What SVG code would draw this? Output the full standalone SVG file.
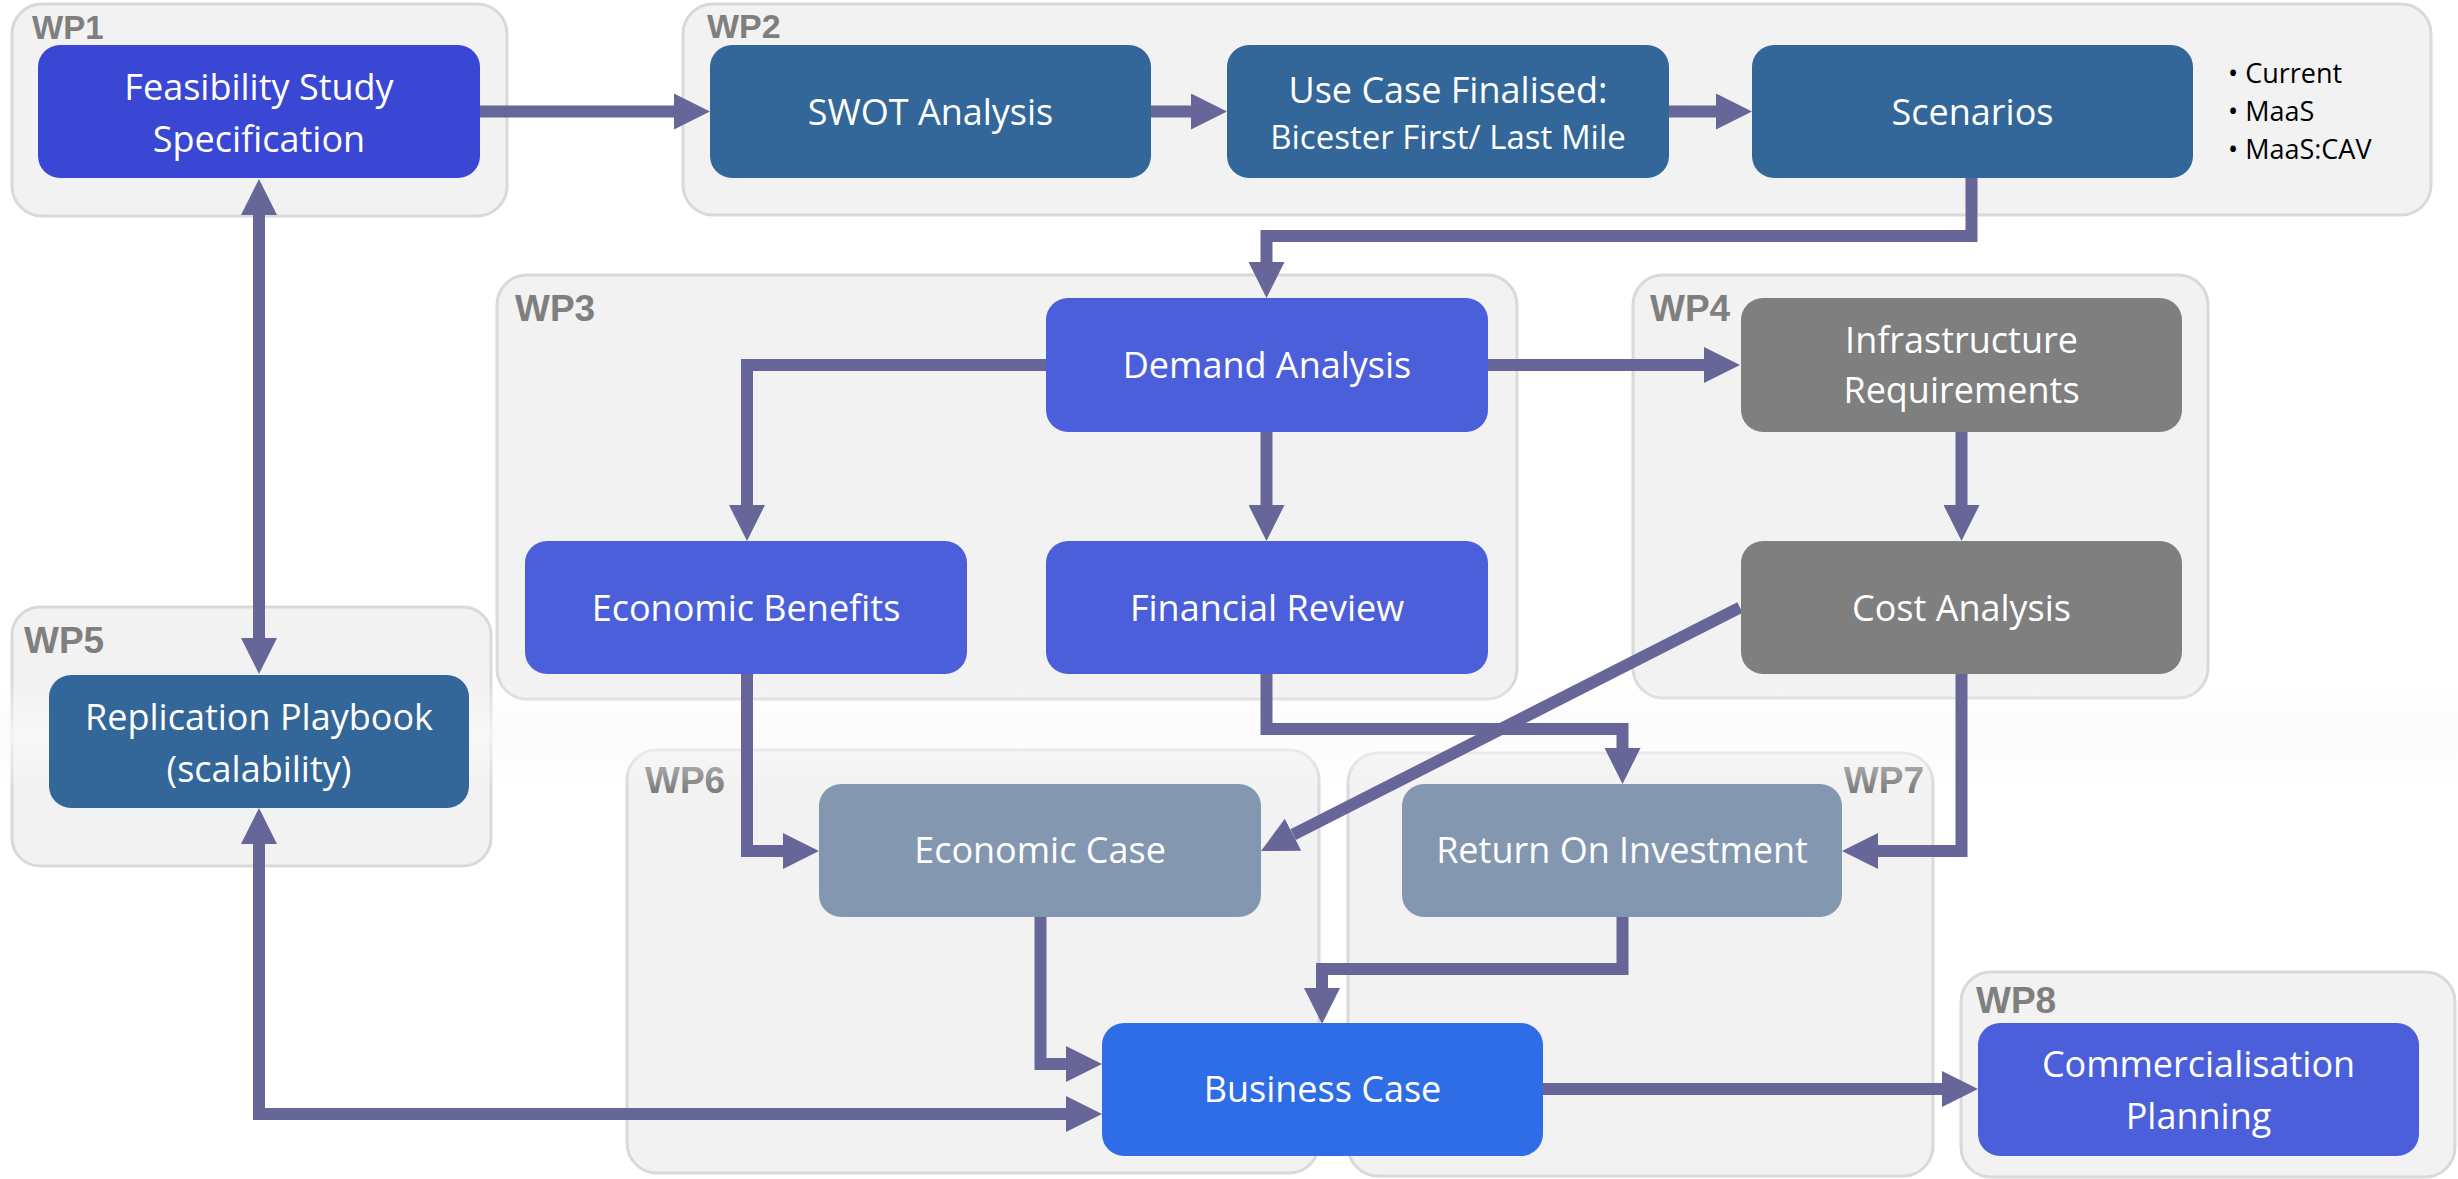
<svg xmlns="http://www.w3.org/2000/svg" width="2458" height="1179" viewBox="0 0 2458 1179">
  <defs>
    <style>
      .wp { fill: #f2f2f2; stroke: #d9d9d9; stroke-width: 3; }
      .wpl { font-family: "Liberation Sans", Arial, sans-serif; font-weight: bold; font-size: 37px; fill: #7f7f7f; }
      .box { stroke: none; }
      .t { font-family: "Open Sans", "Noto Sans", sans-serif; font-size: 36px; fill: #ffffff; text-anchor: middle; }
      .t2 { font-size: 33px; }
      .bul { font-family: "Open Sans", "Noto Sans", sans-serif; font-size: 27px; fill: #000000; }
      .c-feas { fill: #3a46d4; }
      .c-teal { fill: #336699; }
      .c-blue { fill: #4c5fdb; }
      .c-grey { fill: #7f7f7f; }
      .c-slate { fill: #8497b0; }
      .c-biz { fill: #2f6de6; }
      .link { fill: none; stroke: #666699; stroke-width: 12; stroke-linejoin: miter; stroke-linecap: butt; marker-end: url(#head); }
      .both { marker-start: url(#head); }
    </style>
    <marker id="head" markerUnits="userSpaceOnUse" markerWidth="36" markerHeight="36" refX="0" refY="18" orient="auto-start-reverse" viewBox="0 0 36 36">
      <path d="M0,0 L36,18 L0,36 Z" fill="#666699"/>
    </marker>
    <linearGradient id="haze" x1="0" y1="0" x2="0" y2="1">
      <stop offset="0" stop-color="#fafafa" stop-opacity="0"/>
      <stop offset="0.5" stop-color="#fafafa" stop-opacity="0.75"/>
      <stop offset="1" stop-color="#fafafa" stop-opacity="0"/>
    </linearGradient>
  </defs>

  <rect x="0" y="0" width="2458" height="1179" fill="#ffffff"/>

  <!-- work package panels -->
  <g id="wp1"><rect class="wp" x="12" y="4" width="495" height="212" rx="30"/><text class="wpl" x="32" y="39" style="font-size:33px">WP1</text></g>
  <g id="wp2"><rect class="wp" x="683" y="4" width="1748" height="211" rx="30"/><text class="wpl" x="707" y="38" style="font-size:34px">WP2</text></g>
  <g id="wp3"><rect class="wp" x="497" y="275" width="1020" height="424" rx="30"/><text class="wpl" x="515" y="321">WP3</text></g>
  <g id="wp4"><rect class="wp" x="1633" y="275" width="575" height="423" rx="30"/><text class="wpl" x="1650" y="321">WP4</text></g>
  <g id="wp5"><rect class="wp" x="12" y="607" width="479" height="259" rx="28"/><text class="wpl" x="24" y="653">WP5</text></g>
  <g id="wp6"><rect class="wp" x="627" y="750" width="692" height="423" rx="30"/><text class="wpl" x="645" y="793">WP6</text></g>
  <g id="wp7"><rect class="wp" x="1348" y="753" width="585" height="423" rx="30"/><text class="wpl" x="1924" y="793" text-anchor="end">WP7</text></g>
  <g id="wp8"><rect class="wp" x="1961" y="972" width="494" height="205" rx="30"/><text class="wpl" x="1976" y="1013">WP8</text></g>

  <!-- soft light band across the middle of the sheet -->
  <rect x="0" y="680" width="2458" height="110" fill="url(#haze)"/>

  <!-- connectors -->
  <g id="connectors">
    <path class="link" d="M480,111.5 H674"/>
    <path class="link" d="M1151,111.5 H1191"/>
    <path class="link" d="M1669,111.5 H1716"/>
    <path class="link" d="M1971.5,178 V236 H1266.5 V262"/>
    <path class="link" d="M1046,365 H747 V505"/>
    <path class="link" d="M1266.5,432 V505"/>
    <path class="link" d="M1488,365 H1704"/>
    <path class="link" d="M1961.5,432 V505"/>
    <path class="link" d="M747,674 V851 H783"/>
    <path class="link" d="M1266.5,674 V729 H1622.5 V748"/>
    <path class="link" d="M1740,607.5 L1293.1,834.7"/>
    <path class="link" d="M1961.5,674 V851 H1878"/>
    <path class="link" d="M1040.5,917 V1064 H1066"/>
    <path class="link" d="M1622.5,917 V969 H1322 V988"/>
    <path class="link both" d="M259,215 V638"/>
    <path class="link both" d="M259,844 V1114 H1066"/>
    <path class="link" d="M1543,1089 H1942"/>
  </g>

  <!-- task boxes -->
  <g id="feasibility">
    <rect class="box c-feas" x="38" y="45" width="442" height="133" rx="22"/>
    <text class="t" x="259" y="100">Feasibility Study</text>
    <text class="t" x="259" y="152">Specification</text>
  </g>
  <g id="swot">
    <rect class="box c-teal" x="710" y="45" width="441" height="133" rx="22"/>
    <text class="t" x="930.5" y="124.5">SWOT Analysis</text>
  </g>
  <g id="use-case">
    <rect class="box c-teal" x="1227" y="45" width="442" height="133" rx="22"/>
    <text class="t" x="1448" y="103">Use Case Finalised:</text>
    <text class="t t2" x="1448" y="149">Bicester First/ Last Mile</text>
  </g>
  <g id="scenarios">
    <rect class="box c-teal" x="1752" y="45" width="441" height="133" rx="22"/>
    <text class="t" x="1972.5" y="124.5">Scenarios</text>
    <text class="bul" x="2228" y="83">• Current</text>
    <text class="bul" x="2228" y="121">• MaaS</text>
    <text class="bul" x="2228" y="159">• MaaS:CAV</text>
  </g>
  <g id="demand">
    <rect class="box c-blue" x="1046" y="298" width="442" height="134" rx="22"/>
    <text class="t" x="1267" y="378">Demand Analysis</text>
  </g>
  <g id="economic-benefits">
    <rect class="box c-blue" x="525" y="541" width="442" height="133" rx="22"/>
    <text class="t" x="746" y="621">Economic Benefits</text>
  </g>
  <g id="financial-review">
    <rect class="box c-blue" x="1046" y="541" width="442" height="133" rx="22"/>
    <text class="t" x="1267" y="621">Financial Review</text>
  </g>
  <g id="infrastructure">
    <rect class="box c-grey" x="1741" y="298" width="441" height="134" rx="22"/>
    <text class="t" x="1961.5" y="353">Infrastructure</text>
    <text class="t" x="1961.5" y="403">Requirements</text>
  </g>
  <g id="cost">
    <rect class="box c-grey" x="1741" y="541" width="441" height="133" rx="22"/>
    <text class="t" x="1961.5" y="621">Cost Analysis</text>
  </g>
  <g id="replication">
    <rect class="box c-teal" x="49" y="675" width="420" height="133" rx="22"/>
    <text class="t" x="259" y="730">Replication Playbook</text>
    <text class="t" x="259" y="782">(scalability)</text>
  </g>
  <g id="economic-case">
    <rect class="box c-slate" x="819" y="784" width="442" height="133" rx="22"/>
    <text class="t" x="1040" y="863">Economic Case</text>
  </g>
  <g id="roi">
    <rect class="box c-slate" x="1402" y="784" width="440" height="133" rx="22"/>
    <text class="t" x="1622" y="863">Return On Investment</text>
  </g>
  <g id="business-case">
    <rect class="box c-biz" x="1102" y="1023" width="441" height="133" rx="22"/>
    <text class="t" x="1322.5" y="1102">Business Case</text>
  </g>
  <g id="commercialisation">
    <rect class="box c-blue" x="1978" y="1023" width="441" height="133" rx="22"/>
    <text class="t" x="2198.5" y="1077">Commercialisation</text>
    <text class="t" x="2198.5" y="1129">Planning</text>
  </g>
</svg>
